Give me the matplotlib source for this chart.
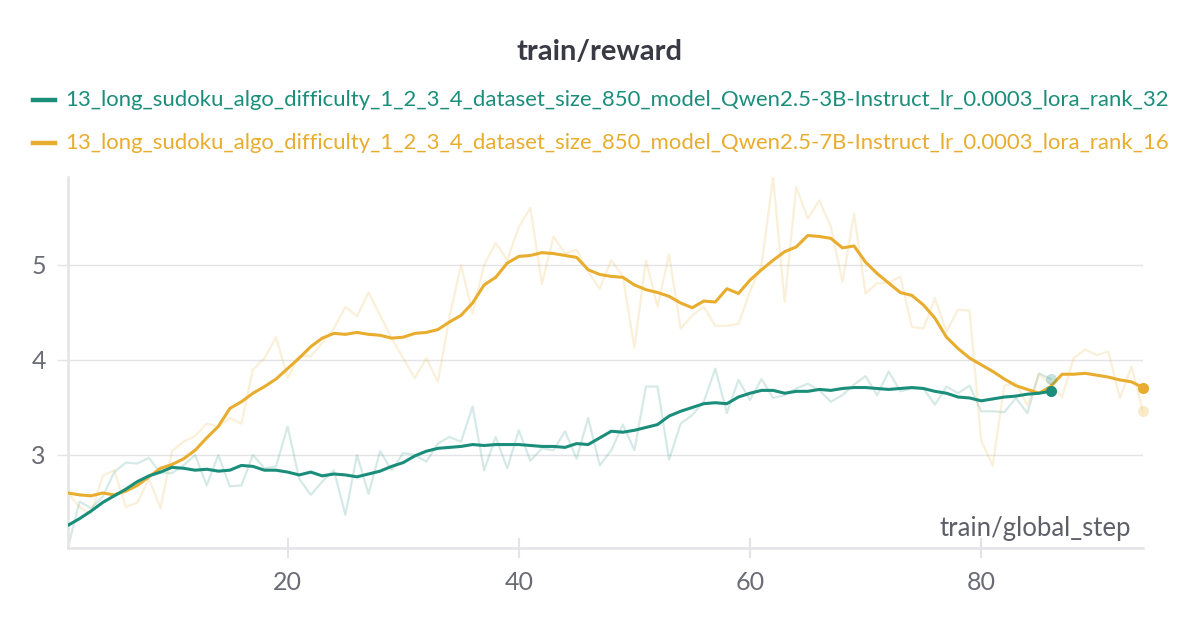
import numpy as np
import matplotlib
matplotlib.use("Agg")
import matplotlib.pyplot as plt
from matplotlib.lines import Line2D

plt.rcParams['font.family'] = ['Lato', 'DejaVu Sans']

# run names
label_3b = "13_long_sudoku_algo_difficulty_1_2_3_4_dataset_size_850_model_Qwen2.5-3B-Instruct_lr_0.0003_lora_rank_32"
label_7b = "13_long_sudoku_algo_difficulty_1_2_3_4_dataset_size_850_model_Qwen2.5-7B-Instruct_lr_0.0003_lora_rank_16"

# 3B run: raw reward and smoothed reward, steps 1..86
steps_3b = np.arange(1, 87)
raw_3b = [2.03, 2.51, 2.44, 2.56, 2.82, 2.92, 2.91, 2.97, 2.81, 2.81,
          2.89, 3.00, 2.68, 3.00, 2.67, 2.68, 3.00, 2.86, 2.88, 3.30,
          2.75, 2.58, 2.72, 2.84, 2.37, 3.00, 2.59, 3.04, 2.84, 3.02,
          3.00, 2.93, 3.12, 3.19, 3.14, 3.51, 2.84, 3.19, 2.86, 3.26,
          2.94, 3.07, 3.05, 3.25, 2.96, 3.39, 2.89, 3.05, 3.32, 3.05,
          3.72, 3.72, 2.95, 3.33, 3.42, 3.56, 3.91, 3.44, 3.79, 3.58,
          3.80, 3.60, 3.63, 3.70, 3.75, 3.68, 3.56, 3.63, 3.74, 3.83,
          3.63, 3.88, 3.67, 3.70, 3.70, 3.53, 3.72, 3.65, 3.73, 3.46,
          3.46, 3.45, 3.60, 3.44, 3.86, 3.80]
smooth_3b = [2.26, 2.33, 2.41, 2.50, 2.57, 2.64, 2.72, 2.78, 2.82, 2.87,
             2.86, 2.84, 2.85, 2.83, 2.84, 2.89, 2.88, 2.84, 2.84, 2.82,
             2.79, 2.82, 2.78, 2.80, 2.79, 2.77, 2.80, 2.83, 2.88, 2.92,
             2.99, 3.04, 3.07, 3.08, 3.09, 3.11, 3.10, 3.11, 3.11, 3.11,
             3.10, 3.09, 3.09, 3.08, 3.12, 3.11, 3.18, 3.25, 3.24, 3.26,
             3.29, 3.32, 3.41, 3.46, 3.50, 3.54, 3.55, 3.54, 3.61, 3.65,
             3.68, 3.68, 3.65, 3.67, 3.67, 3.69, 3.68, 3.70, 3.71, 3.71,
             3.70, 3.69, 3.70, 3.71, 3.70, 3.67, 3.65, 3.61, 3.60, 3.57,
             3.59, 3.61, 3.62, 3.64, 3.65, 3.67]

# 7B run: steps 1..94
steps_7b = np.arange(1, 95)
raw_7b = [2.60, 2.45, 2.38, 2.78, 2.84, 2.45, 2.50, 2.75, 2.44, 3.04,
          3.14, 3.20, 3.33, 3.30, 3.39, 3.33, 3.90, 4.02, 4.24, 3.81,
          4.04, 4.04, 4.18, 4.33, 4.56, 4.46, 4.71, 4.47, 4.23, 4.02,
          3.81, 4.02, 3.77, 4.45, 5.00, 4.49, 5.00, 5.23, 5.05, 5.40,
          5.60, 4.80, 5.30, 5.12, 5.16, 4.93, 4.75, 5.05, 4.88, 4.13,
          5.05, 4.56, 5.11, 4.33, 4.47, 4.56, 4.36, 4.36, 4.38, 4.72,
          5.00, 5.92, 4.61, 5.82, 5.49, 5.68, 5.40, 4.82, 5.54, 4.70,
          4.81, 4.81, 4.88, 4.35, 4.33, 4.65, 4.30, 4.53, 4.52, 3.15,
          2.89, 3.73, 3.76, 3.52, 3.85, 3.75, 3.61, 4.02, 4.11, 4.05,
          4.09, 3.60, 3.93, 3.46]
smooth_7b = [2.60, 2.58, 2.57, 2.60, 2.58, 2.62, 2.68, 2.77, 2.86, 2.90,
             2.96, 3.05, 3.18, 3.30, 3.49, 3.56, 3.65, 3.72, 3.80, 3.91,
             4.02, 4.14, 4.23, 4.28, 4.27, 4.29, 4.27, 4.26, 4.23, 4.24,
             4.28, 4.29, 4.32, 4.40, 4.47, 4.60, 4.79, 4.87, 5.02, 5.09,
             5.10, 5.13, 5.12, 5.10, 5.08, 4.95, 4.90, 4.88, 4.87, 4.79,
             4.74, 4.71, 4.67, 4.60, 4.55, 4.62, 4.61, 4.75, 4.70, 4.84,
             4.95, 5.05, 5.14, 5.19, 5.31, 5.30, 5.28, 5.18, 5.20, 5.03,
             4.91, 4.81, 4.71, 4.68, 4.58, 4.44, 4.24, 4.12, 4.02, 3.95,
             3.88, 3.80, 3.73, 3.69, 3.65, 3.72, 3.85, 3.85, 3.86, 3.84,
             3.82, 3.79, 3.77, 3.71]

teal = '#1b8e7b'
orange = '#e8ad2e'
grid_c = '#e4e4e8'
tick_c = '#6b6b76'

W, H = 1199, 630
fig = plt.figure(figsize=(W / 100, H / 100), dpi=100)
ax = fig.add_axes([68 / W, 1 - 548 / H, (1143 - 68) / W, (548 - 177) / H])

# faint raw lines
ax.plot(steps_3b, raw_3b, color=teal, alpha=0.18, lw=1.6, zorder=2)
ax.plot(steps_7b, raw_7b, color=orange, alpha=0.18, lw=1.6, zorder=2)
# smoothed lines
ax.plot(steps_3b, smooth_3b, color=teal, lw=2.2, zorder=4)
ax.plot(steps_7b, smooth_7b, color=orange, lw=2.2, zorder=3)

# end dots
ax.plot(steps_3b[-1], raw_3b[-1], 'o', color=teal, alpha=0.25, ms=8, mec='none', clip_on=False, zorder=3)
ax.plot(steps_7b[-1], raw_7b[-1], 'o', color=orange, alpha=0.25, ms=8, mec='none', clip_on=False, zorder=3)
ax.plot(steps_3b[-1], smooth_3b[-1], 'o', color=teal, ms=8, mec='none', clip_on=False, zorder=5)
ax.plot(steps_7b[-1], smooth_7b[-1], 'o', color=orange, ms=8, mec='none', clip_on=False, zorder=5)

ax.set_xlim(1, 94)
ax.set_ylim(2.021, 5.926)
ax.set_xticks([20, 40, 60, 80])
ax.set_yticks([3, 4, 5])
ax.grid(axis='y', color=grid_c, lw=1.0)
ax.set_axisbelow(True)

for s in ['top', 'right']:
    ax.spines[s].set_visible(False)
for s in ['left', 'bottom']:
    ax.spines[s].set_color(grid_c)
    ax.spines[s].set_linewidth(1.8)

ax.tick_params(axis='x', direction='inout', length=15, width=1.5, color=grid_c,
               labelsize=18, labelcolor=tick_c, pad=9)
ax.tick_params(axis='y', direction='out', length=8, width=1.0, color=grid_c,
               labelsize=18, labelcolor=tick_c, pad=8)

ax.text(0.9885, 0.02, 'train/global_step', transform=ax.transAxes, ha='right',
        va='bottom', fontsize=18.5, color='#5f5f69')

fig.text(0.5, 1 - 52 / H, 'train/reward', ha='center', va='center',
         fontsize=21, fontweight='bold', color='#3a3a44')

# legend rows
for lab, col, yp in [(label_3b, teal, 100), (label_7b, orange, 143)]:
    yf = 1 - yp / H
    fig.add_artist(Line2D([33 / W, 55 / W], [yf, yf], color=col, lw=3.2,
                          transform=fig.transFigure))
    fig.text(65 / W, yf, lab, ha='left', va='center', fontsize=15.95, color=col)

fig.savefig('out.png', dpi=100)
